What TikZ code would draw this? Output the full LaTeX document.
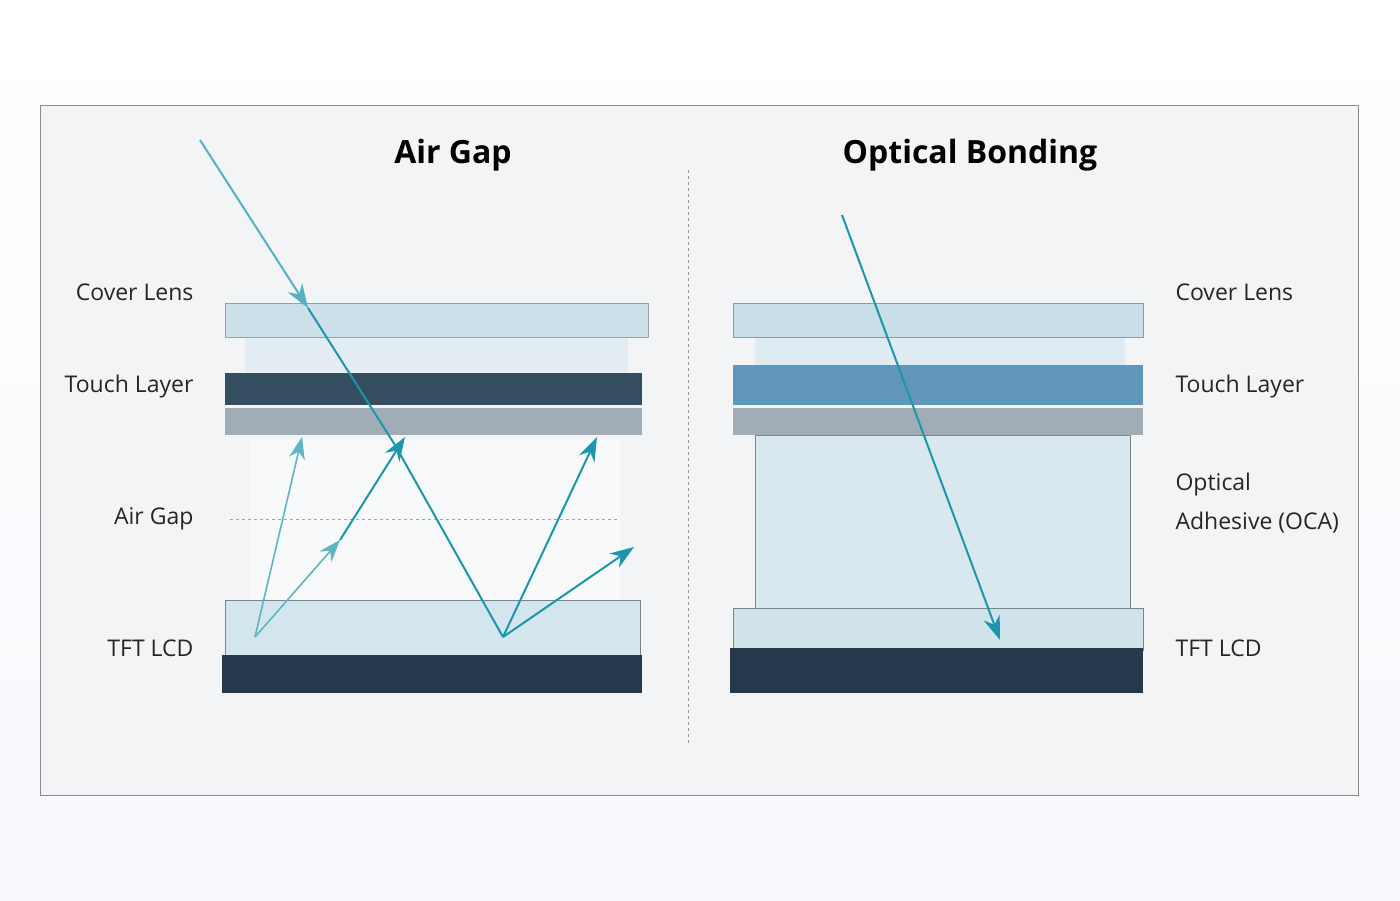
\documentclass[tikz,border=0pt]{standalone}
\usepackage{fontspec}
\setmainfont{Open Sans}
\usetikzlibrary{arrows.meta}
\definecolor{ray}{RGB}{28,150,170}
\definecolor{glass}{RGB}{200,222,232}
\definecolor{darkbase}{RGB}{36,58,76}
\definecolor{touchdark}{RGB}{52,78,96}
\definecolor{touchblue}{RGB}{96,150,185}
\definecolor{grayband}{RGB}{160,172,182}
\definecolor{paper}{RGB}{242,244,246}
\begin{document}
\begin{tikzpicture}[%
      x=1pt,y=-1pt,
      lbl/.style={font=\fontsize{23}{27}\selectfont,text=black!85},
      ttl/.style={font=\bfseries\fontsize{32}{36}\selectfont},
      rayline/.style={draw=ray,line width=2pt},
      raytip/.style={rayline,-{Stealth[length=24pt,width=17pt]}},
      faint/.style={draw=ray!70,line width=1.6pt,-{Stealth[length=22pt,width=16pt]}},
      ]
      \useasboundingbox (0,0) rectangle (1400,900);
      \shade[top color=white,bottom color=paper!80!blue!10] (0,0) rectangle (1400,900);
      \filldraw[fill=paper,draw=black!45] (40,105) rectangle (1358,795);
      \draw[black!40,dashed] (688,170) -- (688,745);

      \node[ttl] (tleft) at (453,155) {Air Gap};
      \node[ttl] (tright) at (970,155) {Optical Bonding};

      % left stack
      \fill[glass!60,opacity=.8] (245,337) rectangle (628,372);
      \filldraw[fill=glass,draw=glass!70!black,opacity=.9] (225,303) rectangle (648,337);
      \fill[touchdark] (225,373) rectangle (642,405);
      \fill[grayband] (225,408) rectangle (642,435);
      \fill[white,opacity=.5] (250,440) rectangle (620,600);
      \filldraw[fill=glass!80,draw=glass!60!black] (225,600) rectangle (640,655);
      \fill[darkbase] (222,655) rectangle (642,693);
      \draw[black!35,dashed] (230,519) -- (620,519);

      % right stack
      \fill[glass!60] (755,337) rectangle (1125,365);
      \filldraw[fill=glass,draw=glass!70!black] (733,303) rectangle (1143,337);
      \fill[touchblue] (733,365) rectangle (1143,405);
      \fill[grayband] (733,408) rectangle (1143,435);
      \filldraw[fill=glass!70,draw=glass!60!black] (755,435) rectangle (1130,610);
      \filldraw[fill=glass!85,draw=glass!60!black] (733,608) rectangle (1143,650);
      \fill[darkbase] (730,648) rectangle (1143,693);

      % labels
      \node[lbl,anchor=east] (lcover) at (197,292) {Cover Lens};
      \node[lbl,anchor=east] (ltouch) at (197,387) {Touch Layer};
      \node[lbl,anchor=east] (lgap) at (197,519) {Air Gap};
      \node[lbl,anchor=east] (ltft) at (197,648) {TFT LCD};
      \node[lbl,anchor=west] (rcover) at (1172,292) {Cover Lens};
      \node[lbl,anchor=west] (rtouch) at (1172,387) {Touch Layer};
      \node[lbl,anchor=west,align=left] (roca) at (1172,503) {Optical\\[12pt]Adhesive (OCA)};
      \node[lbl,anchor=west] (rtft) at (1172,648) {TFT LCD};

      % rays, air gap
      \coordinate (src) at (200,140);
      \coordinate (hit) at (308,308);
      \coordinate (top) at (395,445);
      \coordinate (bot) at (503,637);
      \coordinate (spot) at (255,637);
      \coordinate (mid) at (340,540);
      \draw[raytip,draw=ray!75] (src) -- (hit);
      \draw[rayline] (hit) -- (top) -- (bot);
      \draw[faint] (spot) -- (302,437);
      \draw[faint] (spot) -- (mid);
      \draw[raytip] (mid) -- (405,437);
      \draw[raytip] (bot) -- (597,437);
      \draw[raytip] (bot) -- (634,547);

      % ray, optical bonding
      \coordinate (osrc) at (842,215);
      \coordinate (ohit) at (1000,640);
      \draw[raytip] (osrc) -- (ohit);
      \end{tikzpicture}
\end{document}
